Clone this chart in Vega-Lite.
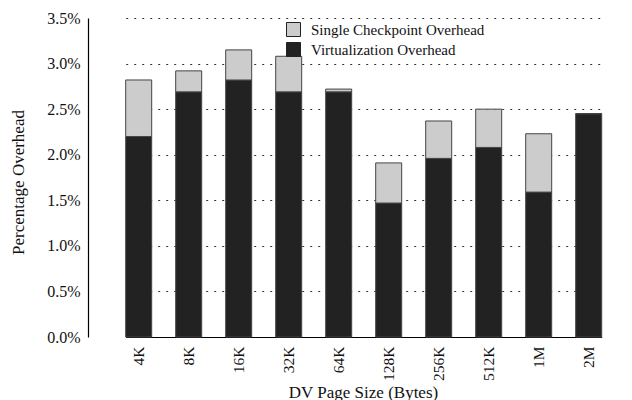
{
  "$schema": "https://vega.github.io/schema/vega-lite/v6.json",
  "width": 544,
  "height": 319,
  "autosize": {"type": "none"},
  "padding": {"left": 88, "top": 18, "right": 0, "bottom": 63},
  "background": "white",
  "config": {
    "font": "Liberation Serif",
    "view": {"stroke": null},
    "axis": {"labelFont": "Liberation Serif", "titleFont": "Liberation Serif", "labelFontSize": 16, "titleFontSize": 17, "titleFontWeight": "normal", "labelColor": "#111", "titleColor": "#111"}
  },
  "data": {
    "values": [
      {"size": "4K", "type": "Virtualization Overhead", "value": 2.20},
      {"size": "4K", "type": "Single Checkpoint Overhead", "value": 0.62},
      {"size": "8K", "type": "Virtualization Overhead", "value": 2.69},
      {"size": "8K", "type": "Single Checkpoint Overhead", "value": 0.23},
      {"size": "16K", "type": "Virtualization Overhead", "value": 2.82},
      {"size": "16K", "type": "Single Checkpoint Overhead", "value": 0.33},
      {"size": "32K", "type": "Virtualization Overhead", "value": 2.69},
      {"size": "32K", "type": "Single Checkpoint Overhead", "value": 0.39},
      {"size": "64K", "type": "Virtualization Overhead", "value": 2.69},
      {"size": "64K", "type": "Single Checkpoint Overhead", "value": 0.03},
      {"size": "128K", "type": "Virtualization Overhead", "value": 1.47},
      {"size": "128K", "type": "Single Checkpoint Overhead", "value": 0.44},
      {"size": "256K", "type": "Virtualization Overhead", "value": 1.96},
      {"size": "256K", "type": "Single Checkpoint Overhead", "value": 0.41},
      {"size": "512K", "type": "Virtualization Overhead", "value": 2.08},
      {"size": "512K", "type": "Single Checkpoint Overhead", "value": 0.42},
      {"size": "1M", "type": "Virtualization Overhead", "value": 1.59},
      {"size": "1M", "type": "Single Checkpoint Overhead", "value": 0.64},
      {"size": "2M", "type": "Virtualization Overhead", "value": 2.45},
      {"size": "2M", "type": "Single Checkpoint Overhead", "value": 0.0}
    ]
  },
  "mark": {"type": "bar", "stroke": "#444", "strokeWidth": 1},
  "encoding": {
    "x": {
      "field": "size", "type": "nominal",
      "sort": ["4K", "8K", "16K", "32K", "64K", "128K", "256K", "512K", "1M", "2M"],
      "scale": {"range": [37.7, 513.7], "paddingInner": 0.48, "paddingOuter": 0},
      "axis": {"title": "DV Page Size (Bytes)", "labelAngle": -90, "labelAlign": "right", "labelBaseline": "middle", "labelPadding": 9, "labelFontSize": 15.5, "ticks": false, "domainColor": "#000", "domainWidth": 1.2, "titleBaseline": "alphabetic", "titleY": 60, "titleX": 275}
    },
    "y": {
      "field": "value", "type": "quantitative", "stack": "zero",
      "scale": {"domain": [0, 3.5], "nice": false},
      "axis": {"title": "Percentage Overhead", "values": [0, 0.5, 1, 1.5, 2, 2.5, 3, 3.5], "labelExpr": "format(datum.value, '.1f') + '%'", "labelPadding": 8, "ticks": false, "domainColor": "#000", "domainWidth": 1.2, "grid": true, "gridColor": "#333", "gridDash": [2, 6], "gridWidth": 1, "titleAngle": -90, "titleAlign": "center", "titleBaseline": "alphabetic", "titleX": -65, "titleY": 164}
    },
    "color": {
      "field": "type", "type": "nominal",
      "scale": {"domain": ["Single Checkpoint Overhead", "Virtualization Overhead"], "range": ["#cccccc", "#222222"]},
      "legend": {"title": null, "orient": "none", "legendX": 198, "legendY": 4, "symbolType": "square", "symbolSize": 196, "symbolStrokeColor": "#222", "symbolStrokeWidth": 1, "labelFont": "Liberation Serif", "labelFontSize": 15, "labelColor": "#111", "labelOffset": 10, "labelLimit": 0, "rowPadding": 1, "padding": 0}
    },
    "order": {"field": "type", "sort": "descending"}
  }
}
